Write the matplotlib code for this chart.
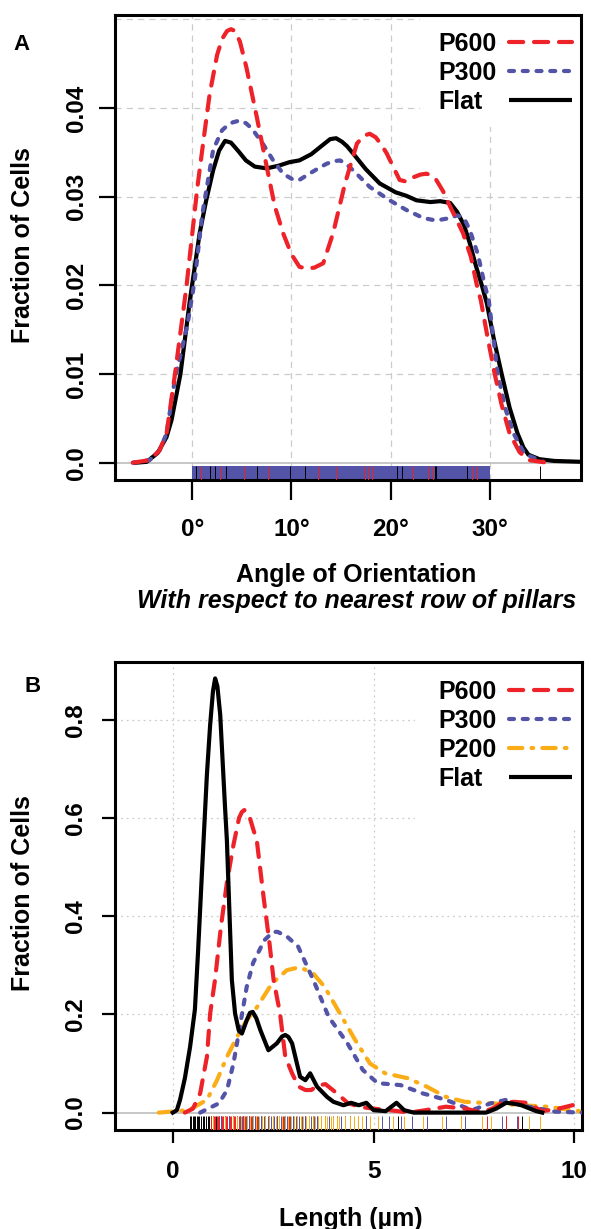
import matplotlib
matplotlib.use("Agg")
import matplotlib.pyplot as plt
from matplotlib.lines import Line2D
from matplotlib.patches import Rectangle
import matplotlib.transforms as mtransforms

plt.rcParams["font.family"] = ["Liberation Sans", "DejaVu Sans"]
plt.rcParams["font.weight"] = "bold"

# ---------------- panel A: angle of orientation ----------------
a_flat_x = [-5.7, -4.6, -3.5, -2.6, -2.1, -1.2, -0.25, 0.74, 1.4, 2.1, 2.7, 3.3, 3.9, 4.6,
            5.4, 6.3, 7.5, 8.7, 9.8, 10.8, 12.0, 13.0, 13.9, 14.5, 15.1, 15.6, 16.2, 17.5,
            18.9, 20.5, 21.6, 22.6, 24.0, 25.0, 26.0, 26.7, 27.4, 28.0, 28.6, 29.2, 29.7,
            30.4, 31.2, 32.0, 32.8, 33.4, 33.9, 35.0, 36.5, 39.3]
a_flat_y = [0.0, 0.0001, 0.0011, 0.0029, 0.0048, 0.0100, 0.0183, 0.0259, 0.0296, 0.0330,
            0.0352, 0.0363, 0.0361, 0.0352, 0.0341, 0.0334, 0.0332, 0.0335, 0.0339, 0.0341,
            0.0348, 0.0357, 0.0365, 0.0366, 0.0362, 0.0357, 0.0349, 0.0331, 0.0315, 0.0305,
            0.0301, 0.0296, 0.0294, 0.0295, 0.0293, 0.0283, 0.0268, 0.0247, 0.0222, 0.0200,
            0.0180, 0.0140, 0.0100, 0.0062, 0.0033, 0.0017, 0.0009, 0.0004, 0.0002, 0.0001]

a_p600_x = [-6.0, -4.3, -3.3, -2.6, -1.75, -0.6, 0.5, 1.2, 1.75, 2.5, 3.0, 3.5, 3.9, 4.3,
            4.8, 5.45, 6.5, 7.5, 8.3, 9.15, 10.0, 10.8, 11.5, 12.3, 13.2, 14.2, 15.4, 16.6,
            17.3, 17.9, 18.5, 19.1, 19.6, 20.9, 21.6, 22.3, 23.0, 23.6, 24.2, 24.6, 25.3,
            26.0, 27.3, 28.1, 28.7, 29.1, 29.8, 30.5, 31.2, 32.0, 33.0, 33.9, 35.8]
a_p600_y = [0.0, 0.0003, 0.0014, 0.0033, 0.0100, 0.0198, 0.0310, 0.0370, 0.0416, 0.0460,
            0.0478, 0.0487, 0.0489, 0.0487, 0.0475, 0.0446, 0.0390, 0.0334, 0.0290, 0.0259,
            0.0235, 0.0221, 0.0219, 0.0220, 0.0225, 0.0259, 0.0315, 0.0360, 0.0369, 0.0371,
            0.0367, 0.0358, 0.0349, 0.0319, 0.0317, 0.0322, 0.0325, 0.0326, 0.0324, 0.0319,
            0.0306, 0.0289, 0.0259, 0.0232, 0.0200, 0.0183, 0.0140, 0.0100, 0.0065, 0.0033,
            0.0012, 0.0003, 0.0]

a_p300_x = [-6.0, -4.3, -3.3, -2.6, -1.75, -0.5, 0.23, 1.0, 2.1, 3.0, 3.6, 4.1, 4.8, 5.4,
            6.0, 7.1, 8.1, 9.15, 10.2, 10.8, 11.8, 12.7, 13.5, 14.2, 14.9, 15.5, 16.2, 17.9,
            19.9, 21.6, 23.3, 24.2, 25.0, 26.0, 26.7, 27.4, 28.0, 28.8, 29.5, 29.9, 30.8,
            31.6, 32.4, 33.5, 35.4]
a_p300_y = [0.0, 0.0003, 0.0014, 0.0033, 0.0095, 0.0155, 0.0205, 0.0280, 0.0353, 0.0375,
            0.0381, 0.0384, 0.0386, 0.0383, 0.0377, 0.0360, 0.0342, 0.0326, 0.0319, 0.0319,
            0.0326, 0.0332, 0.0337, 0.0340, 0.0341, 0.0337, 0.0330, 0.0311, 0.0296, 0.0285,
            0.0276, 0.0274, 0.0274, 0.0276, 0.0279, 0.0276, 0.0262, 0.0235, 0.0200, 0.0183,
            0.0100, 0.0060, 0.0033, 0.0010, 0.0001]

# rug of observed angles (P300 ticks are dense enough to form a band)
a_rug_p300_span = (0.0, 30.0)
a_rug_p600 = [0.9, 2.75, 5.2, 7.6, 12.7, 14.5, 17.4, 17.7, 18.1, 22.3, 23.8, 24.3, 28.2, 28.7]
a_rug_flat = [0.4, 1.75, 2.25, 3.4, 6.5, 9.8, 11.4, 20.6, 21.1, 24.5, 24.6, 27.7, 35.1]

a_xticks = [0, 10, 20, 30]
a_xticklabels = ["0°", "10°", "20°", "30°"]
a_yticks = [0.0, 0.01, 0.02, 0.03, 0.04]
a_yticklabels = ["0.0", "0.01", "0.02", "0.03", "0.04"]

# ---------------- panel B: length ----------------
b_flat_x = [0.0, 0.1, 0.18, 0.3, 0.43, 0.55, 0.63, 0.72, 0.85, 0.93, 1.0, 1.054, 1.11,
            1.18, 1.30, 1.346, 1.47, 1.55, 1.64, 1.72, 1.84, 1.92, 1.99, 2.08, 2.18, 2.38,
            2.59, 2.72, 2.80, 2.88, 2.97, 3.17, 3.30, 3.42, 3.59, 3.84, 4.0, 4.25, 4.44,
            4.63, 4.82, 5.0, 5.3, 5.57, 5.76, 6.0, 7.0, 7.8, 8.05, 8.3, 8.5, 8.68, 9.05,
            9.2]
b_flat_y = [0.0, 0.005, 0.026, 0.070, 0.134, 0.210, 0.330, 0.480, 0.690, 0.790, 0.858,
            0.884, 0.868, 0.810, 0.622, 0.555, 0.270, 0.202, 0.168, 0.161, 0.188, 0.203,
            0.205, 0.192, 0.168, 0.127, 0.141, 0.155, 0.158, 0.154, 0.141, 0.073, 0.066,
            0.080, 0.053, 0.032, 0.022, 0.015, 0.020, 0.015, 0.020, 0.005, 0.003, 0.020,
            0.005, 0.0, 0.0, 0.0, 0.008, 0.020, 0.018, 0.015, 0.003, 0.0]

b_p600_x = [0.3, 0.5, 0.68, 0.85, 0.93, 1.05, 1.2, 1.35, 1.51, 1.65, 1.72, 1.78, 1.84,
            1.90, 2.01, 2.09, 2.26, 2.4, 2.51, 2.67, 2.8, 2.97, 3.13, 3.3, 3.45, 3.6, 3.8,
            4.09, 4.35, 4.63, 5.0, 5.5, 5.9, 6.3, 6.8, 7.3, 7.7, 8.0, 8.2, 8.5, 8.8, 9.2,
            9.6, 10.2]
b_p600_y = [0.0, 0.008, 0.039, 0.114, 0.202, 0.270, 0.380, 0.470, 0.545, 0.600, 0.612,
            0.616, 0.613, 0.605, 0.575, 0.555, 0.439, 0.350, 0.270, 0.202, 0.114, 0.080,
            0.053, 0.046, 0.046, 0.055, 0.058, 0.039, 0.020, 0.012, 0.008, 0.004, 0.0,
            0.005, 0.012, 0.008, 0.0, 0.010, 0.020, 0.022, 0.020, 0.003, 0.008, 0.020]

b_p300_x = [0.68, 1.15, 1.35, 1.51, 1.68, 1.84, 2.0, 2.28, 2.5, 2.61, 2.85, 3.12, 3.5,
            3.88, 4.35, 4.73, 5.1, 5.67, 6.23, 6.8, 7.45, 7.92, 8.3, 8.86, 9.52, 10.2]
b_p300_y = [0.0, 0.019, 0.046, 0.100, 0.180, 0.256, 0.305, 0.351, 0.368, 0.368, 0.358,
            0.338, 0.270, 0.195, 0.141, 0.087, 0.060, 0.056, 0.039, 0.026, 0.005, 0.019,
            0.026, 0.012, 0.002, 0.0]

b_p200_x = [-0.35, 0.4, 0.85, 1.1, 1.35, 1.6, 1.84, 2.05, 2.47, 2.84, 3.1, 3.22, 3.5,
            3.78, 4.16, 4.54, 4.91, 5.29, 5.85, 6.32, 6.8, 7.27, 7.92, 8.68, 9.33, 10.2]
b_p200_y = [0.0, 0.005, 0.026, 0.066, 0.114, 0.154, 0.188, 0.209, 0.263, 0.290, 0.295,
            0.294, 0.283, 0.256, 0.202, 0.148, 0.100, 0.080, 0.070, 0.053, 0.032, 0.022,
            0.019, 0.015, 0.012, 0.002]

b_rug_flat = [0.42, 0.46, 0.5, 0.53, 0.56, 0.6, 0.63, 0.66, 0.7, 0.74, 0.78, 0.82, 0.87,
              0.91, 0.96, 1.0, 1.07, 1.15, 1.2, 1.3, 1.4, 1.5, 1.6, 1.75, 1.9, 2.0, 2.2,
              2.4, 2.6, 2.8, 3.0, 3.3, 3.5, 4.1, 4.4, 4.8, 5.6, 8.3, 8.7]
b_rug_p600 = [0.95, 1.0, 1.03, 1.06, 1.1, 1.13, 1.16, 1.2, 1.23, 1.26, 1.3, 1.33, 1.36,
              1.4, 1.43, 1.46, 1.5, 1.53, 1.56, 1.6, 1.64, 1.68, 1.72, 1.76, 1.8, 1.85,
              1.9, 1.95, 2.0, 2.05, 2.1, 2.2, 2.3, 2.4, 2.5, 2.6, 2.75, 2.9, 3.1, 3.3, 3.6,
              3.8, 4.0, 4.3, 7.17, 7.83, 8.3, 8.6]
b_rug_p300 = [1.2, 1.3, 1.4, 1.5, 1.6, 1.68, 1.75, 1.83, 1.9, 1.97, 2.05, 2.12, 2.2, 2.26,
              2.3, 2.38, 2.45, 2.52, 2.6, 2.65, 2.7, 2.78, 2.85, 2.92, 3.0, 3.08, 3.15,
              3.22, 3.3, 3.38, 3.45, 3.52, 3.6, 3.7, 3.8, 3.9, 4.0, 4.1, 4.2, 4.3, 4.4,
              4.6, 4.8, 5.2, 5.39, 5.67, 5.95, 6.33, 6.8, 7.27, 8.21, 8.58]
b_rug_p200 = [1.0, 1.3, 1.5, 1.6, 1.7, 1.78, 1.85, 1.92, 2.0, 2.08, 2.15, 2.22, 2.3, 2.4,
              2.5, 2.58, 2.65, 2.72, 2.8, 2.88, 2.95, 3.02, 3.1, 3.18, 3.25, 3.32, 3.4,
              3.48, 3.55, 3.62, 3.7, 3.78, 3.85, 3.93, 4.0, 4.08, 4.15, 4.3, 4.4, 4.5,
              4.6, 4.7, 4.9, 5.1, 5.48, 5.76, 6.23, 6.7, 7.17, 7.69, 7.92, 8.86, 9.15]

b_xticks = [0, 5, 10]
b_xticklabels = ["0", "5", "10"]
b_yticks = [0.0, 0.2, 0.4, 0.6, 0.8]
b_yticklabels = ["0.0", "0.2", "0.4", "0.6", "0.8"]

# ---------------- styles ----------------
RED = "#ee2229"
BLUE = "#5353a8"
ORANGE = "#fbad18"
BLACK = "#000000"
LW = 3.0
styles = {
    "P600": dict(color=RED, linestyle=(0, (3.4, 2.6))),
    "P300": dict(color=BLUE, linestyle=(0, (1.2, 2.1))),
    "P200": dict(color=ORANGE, linestyle=(0, (3.2, 2.2, 0.4, 2.2))),
    "Flat": dict(color=BLACK, linestyle="-"),
}

W, H = 591, 1229
fig = plt.figure(figsize=(W / 100, H / 100), dpi=100)


def px_axes(left, top, right, bottom):
    return fig.add_axes([left / W, 1 - bottom / H, (right - left) / W, (bottom - top) / H])


def style_axes(ax, xlim, ylim, xticks, xlabels, yticks, ylabels, tick_x, tick_y):
    ax.set_xlim(*xlim)
    ax.set_ylim(*ylim)
    ax.set_xticks(xticks)
    ax.set_xticklabels(xlabels)
    ax.set_yticks(yticks)
    ax.set_yticklabels(ylabels, rotation=90, va="center")
    for s in ax.spines.values():
        s.set_linewidth(2.2)
    ax.tick_params(axis="x", direction="out", length=tick_x[0], width=1.6,
                   pad=tick_x[1], labelsize=17.5)
    ax.tick_params(axis="y", direction="out", length=tick_y[0], width=1.6,
                   pad=tick_y[1], labelsize=17.5)
    for t in ax.get_xticklabels() + ax.get_yticklabels():
        t.set_fontweight("bold")
    ax.axhline(0, color="#bdbdbd", lw=1.2, zorder=1)


def draw_rug(ax, values, color, lw=0.7, h=0.03):
    trans = mtransforms.blended_transform_factory(ax.transData, ax.transAxes)
    ax.vlines(values, 0, h, colors=color, lw=lw, transform=trans, zorder=3)


def fx(x):
    return x / W


def fy(y):
    return 1 - y / H


def draw_legend(ax, names, rows_y, box):
    # white box hiding the grid behind the key, then text left, line sample right
    x0, y0, x1, y1 = box
    ax.add_patch(Rectangle((fx(x0), fy(y1)), fx(x1) - fx(x0), fy(y0) - fy(y1),
                           transform=fig.transFigure, facecolor="white",
                           edgecolor="none", zorder=0.5))
    for name, yc in zip(names, rows_y):
        fig.text(fx(438), fy(yc + 9), name, fontsize=18, fontweight="bold",
                 ha="left", va="baseline")
        fig.add_artist(Line2D([fx(509), fx(572)], [fy(yc), fy(yc)], lw=LW,
                              transform=fig.transFigure, dash_capstyle="round",
                              solid_capstyle="butt", **styles[name]))


# ---------- panel A ----------
axA = px_axes(115, 15, 581, 480)
style_axes(axA, (-7.8, 39.2), (-0.00195, 0.0505), a_xticks, a_xticklabels,
           a_yticks, a_yticklabels, (14.5, 13), (11.5, 8))
for gx in a_xticks:
    axA.axvline(gx, color="#cccccc", lw=0.9, ls=(0, (5, 4)), zorder=0)
for gy in a_yticks[1:] + [0.05]:
    axA.axhline(gy, color="#cccccc", lw=0.9, ls=(0, (5, 4)), zorder=0)

trans_a = mtransforms.blended_transform_factory(axA.transData, axA.transAxes)
axA.fill_between(list(a_rug_p300_span), 0, 0.03, color=BLUE, lw=0, transform=trans_a,
                 zorder=2)
draw_rug(axA, a_rug_p600, RED)
draw_rug(axA, a_rug_flat, BLACK)

for name, xs, ys in [("Flat", a_flat_x, a_flat_y), ("P300", a_p300_x, a_p300_y),
                     ("P600", a_p600_x, a_p600_y)]:
    axA.plot(xs, ys, lw=LW, dash_capstyle="round", solid_joinstyle="round", zorder=4,
             **styles[name])
draw_legend(axA, ["P600", "P300", "Flat"], [42, 71, 100], (420, 15, 581, 127))

# ---------- panel B ----------
axB = px_axes(115, 662, 582, 1130)
style_axes(axB, (-1.44, 10.19), (-0.0354, 0.9174), b_xticks, b_xticklabels,
           b_yticks, b_yticklabels, (9.5, 12), (9.5, 11))
for gx in b_xticks:
    axB.axvline(gx, color="#cccccc", lw=0.9, ls=(0, (1.5, 3)), zorder=0)
for gy in b_yticks[1:]:
    axB.axhline(gy, color="#cccccc", lw=0.9, ls=(0, (1.5, 3)), zorder=0)

draw_rug(axB, b_rug_flat, BLACK)
draw_rug(axB, b_rug_p600, RED)
draw_rug(axB, b_rug_p300, BLUE)
draw_rug(axB, b_rug_p200, ORANGE)

for name, xs, ys in [("P200", b_p200_x, b_p200_y), ("P300", b_p300_x, b_p300_y),
                     ("P600", b_p600_x, b_p600_y), ("Flat", b_flat_x, b_flat_y)]:
    axB.plot(xs, ys, lw=LW, dash_capstyle="round", solid_joinstyle="round", zorder=4,
             **styles[name])
draw_legend(axB, ["P600", "P300", "P200", "Flat"], [690, 719, 748, 777],
            (415, 662, 582, 830))


# ---------- texts ----------
def ftext(x, y, s, **kw):
    fig.text(fx(x), fy(y), s, **kw)


ftext(22, 44, "A", fontsize=16, fontweight="bold", ha="center", va="center")
ftext(33, 686, "B", fontsize=16, fontweight="bold", ha="center", va="center")
ftext(23, 245, "Fraction of Cells", fontsize=18, fontweight="bold", rotation=90,
      ha="center", va="center")
ftext(23, 893, "Fraction of Cells", fontsize=18, fontweight="bold", rotation=90,
      ha="center", va="center")
ftext(356, 582, "Angle of Orientation", fontsize=18, fontweight="bold", ha="center",
      va="baseline")
ftext(357, 608, "With respect to nearest row of pillars", fontsize=18, fontweight="bold",
      style="italic", ha="center", va="baseline")
ftext(351, 1226, "Length (µm)", fontsize=18, fontweight="bold", ha="center",
      va="baseline")

fig.savefig("out.png", dpi=100)
